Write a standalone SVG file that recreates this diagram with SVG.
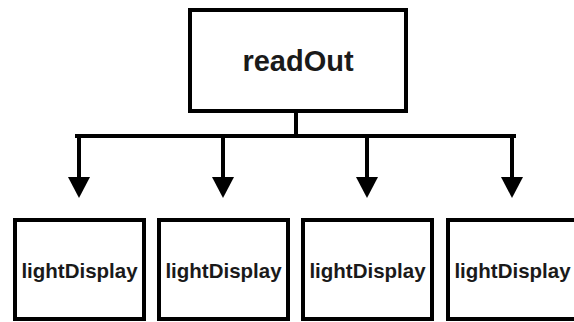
<svg xmlns="http://www.w3.org/2000/svg" width="574" height="322" viewBox="0 0 574 322">
<style>
.box{fill:#fff;stroke:#000;stroke-width:4}
.lbl{font-family:"Liberation Sans",Arial,sans-serif;font-weight:bold;fill:#1a1a1a;text-anchor:middle}
.ln{fill:none;stroke:#000;stroke-width:4}
</style>
<defs>
<marker id="ah" markerUnits="userSpaceOnUse" markerWidth="22" markerHeight="22" refX="1" refY="11" orient="auto" viewBox="0 0 22 22">
<path d="M0,0 L21,11 L0,22 Z" fill="#000"/>
</marker>
</defs>
<g id="connectors">
<path class="ln" d="M296,111 V136"/>
<path class="ln" d="M77,136 H514" stroke-linecap="square"/>
<path class="ln" d="M79,136 V178" marker-end="url(#ah)"/>
<path class="ln" d="M223,136 V178" marker-end="url(#ah)"/>
<path class="ln" d="M367,136 V178" marker-end="url(#ah)"/>
<path class="ln" d="M512,136 V178" marker-end="url(#ah)"/>
</g>
<g id="readOut">
<rect class="box" x="190" y="10" width="216" height="101"/>
<text class="lbl" x="298" y="71" font-size="29">readOut</text>
</g>
<g id="lightDisplay1">
<rect class="box" x="15" y="220" width="129" height="99"/>
<text class="lbl" x="79.5" y="278" font-size="20.5">lightDisplay</text>
</g>
<g id="lightDisplay2">
<rect class="box" x="159" y="220" width="129" height="99"/>
<text class="lbl" x="223.5" y="278" font-size="20.5">lightDisplay</text>
</g>
<g id="lightDisplay3">
<rect class="box" x="303" y="220" width="129" height="99"/>
<text class="lbl" x="367.5" y="278" font-size="20.5">lightDisplay</text>
</g>
<g id="lightDisplay4">
<rect class="box" x="448" y="220" width="129" height="99"/>
<text class="lbl" x="512.5" y="278" font-size="20.5">lightDisplay</text>
</g>
</svg>
